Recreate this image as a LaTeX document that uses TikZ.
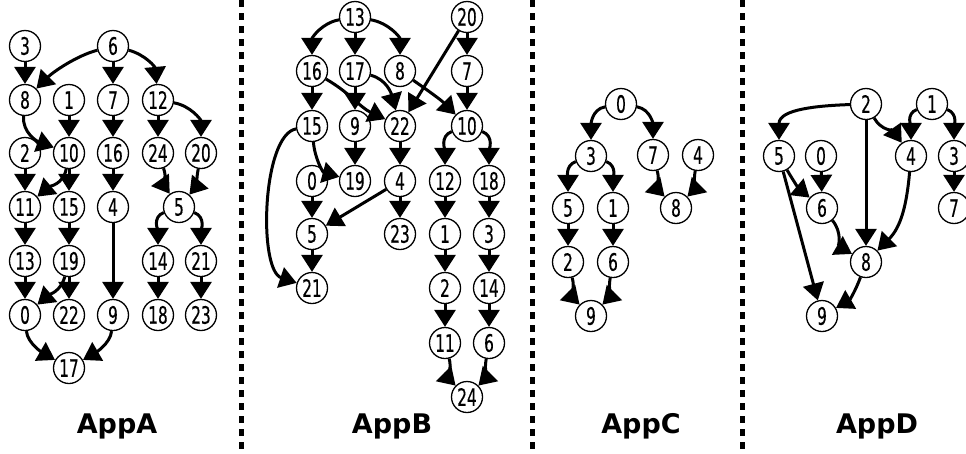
\documentclass[tikz,border=0pt]{standalone}
\usepackage{fontspec}
\usetikzlibrary{arrows.meta}
\newfontfamily\numfont[FakeStretch=0.64,FakeBold=0.4]{DejaVu Sans}
\newfontfamily\labfont{DejaVu Sans}
\begin{document}
\begin{tikzpicture}[x=1pt,y=1pt,
 nd/.style={circle,draw,line width=1.3pt,minimum size=31pt,inner sep=0pt,fill=white,font=\numfont\fontsize{24pt}{24pt}\selectfont},
 arr/.style={line width=3pt,-{Triangle[length=17pt 0,width=21pt 0]}},
 lab/.style={font=\labfont\bfseries\fontsize{27pt}{27pt}\selectfont,anchor=base},
 divider/.style={line width=5pt,dash pattern=on 7pt off 6pt}]
\useasboundingbox (0,0) rectangle (966,-453);
% dividers
\draw[divider] (241,0) -- (241,-453);
\draw[divider] (532,0) -- (532,-453);
\draw[divider] (742,0) -- (742,-453);
% labels
\node[lab] (LA) at (117,-433) {AppA};
\node[lab] (LB) at (392,-433) {AppB};
\node[lab] (LC) at (641,-433) {AppC};
\node[lab] (LD) at (877,-433) {AppD};
% ---------------- AppA
\node[nd] (A3) at (25,-46) {3};
\node[nd] (A6) at (113,-46) {6};
\node[nd] (A8) at (25,-100) {8};
\node[nd] (A1) at (69,-100) {1};
\node[nd] (A7) at (113,-100) {7};
\node[nd] (A12) at (158,-100) {12};
\node[nd] (A2) at (25,-153) {2};
\node[nd] (A10) at (69,-153) {10};
\node[nd] (A16) at (113,-153) {16};
\node[nd] (A24) at (158,-153) {24};
\node[nd] (A20) at (201,-153) {20};
\node[nd] (A11) at (25,-207) {11};
\node[nd] (A15) at (69,-207) {15};
\node[nd] (A4) at (113,-207) {4};
\node[nd] (A5) at (179,-207) {5};
\node[nd] (A13) at (25,-261) {13};
\node[nd] (A19) at (69,-261) {19};
\node[nd] (A14) at (158,-261) {14};
\node[nd] (A21) at (201,-261) {21};
\node[nd] (A0) at (25,-315) {0};
\node[nd] (A22) at (69,-315) {22};
\node[nd] (A9) at (113,-315) {9};
\node[nd] (A18) at (158,-315) {18};
\node[nd] (A23) at (201,-315) {23};
\node[nd] (A17) at (69,-368) {17};
\draw[arr] (A3) -- (A8);
\draw[arr] (A6) to[out=195,in=45,looseness=0.8] (A8);
\draw[arr] (A6) -- (A7);
\draw[arr] (A6) to[out=-15,in=95] (A12);
\draw[arr] (A8) to[out=265,in=160] (A10);
\draw[arr] (A1) -- (A10);
\draw[arr] (A7) -- (A16);
\draw[arr] (A12) -- (A24);
\draw[arr] (A12) to[out=-10,in=90] (A20);
\draw[arr] (A2) -- (A11);
\draw[arr] (A10) to[out=260,in=40] (A11);
\draw[arr] (A10) -- (A15);
\draw[arr] (A16) -- (A4);
\draw[arr] (A24) to[out=290,in=125] (A5);
\draw[arr] (A20) to[out=260,in=50] (A5);
\draw[arr] (A11) -- (A13);
\draw[arr] (A15) -- (A19);
\draw[arr] (A4) -- (A9);
\draw[arr] (A5) to[out=200,in=90] (A14);
\draw[arr] (A5) to[out=-20,in=90] (A21);
\draw[arr] (A13) -- (A0);
\draw[arr] (A19) to[out=255,in=40] (A0);
\draw[arr] (A19) -- (A22);
\draw[arr] (A14) -- (A18);
\draw[arr] (A21) -- (A23);
\draw[arr] (A0) to[out=275,in=150,looseness=0.8] (A17);
\draw[arr] (A9) to[out=265,in=30,looseness=0.8] (A17);
% ---------------- AppB
\node[nd] (B13) at (355,-17) {13};
\node[nd] (B20) at (467,-17) {20};
\node[nd] (B16) at (312,-71) {16};
\node[nd] (B17) at (355,-71) {17};
\node[nd] (B8) at (400,-71) {8};
\node[nd] (B7) at (467,-71) {7};
\node[nd] (B15) at (312,-126) {15};
\node[nd] (B9) at (355,-126) {9};
\node[nd] (B22) at (400,-126) {22};
\node[nd] (B10) at (467,-126) {10};
\node[nd] (B0) at (312,-181) {0};
\node[nd] (B19) at (355,-181) {19};
\node[nd] (B4) at (400,-181) {4};
\node[nd] (B12) at (445,-181) {12};
\node[nd] (B18) at (489,-181) {18};
\node[nd] (B5) at (312,-234) {5};
\node[nd] (B23) at (400,-234) {23};
\node[nd] (B1) at (445,-234) {1};
\node[nd] (B3) at (489,-234) {3};
\node[nd] (B21) at (312,-288) {21};
\node[nd] (B2) at (445,-288) {2};
\node[nd] (B14) at (489,-288) {14};
\node[nd] (B11) at (445,-343) {11};
\node[nd] (B6) at (489,-343) {6};
\node[nd] (B24) at (467,-397) {24};
\draw[arr] (B13) to[out=190,in=90] (B16);
\draw[arr] (B13) -- (B17);
\draw[arr] (B13) to[out=-10,in=90] (B8);
\draw[arr] (B20) -- (B7);
\draw[arr] (B20) -- (B22);
\draw[arr] (B16) -- (B15);
\draw[arr] (B16) to[out=-30,in=155] (B22);
\draw[arr] (B17) -- (B9);
\draw[arr] (B17) to[out=-15,in=105] (B22);
\draw[arr] (B8) to[out=-35,in=135] (B10);
\draw[arr] (B7) -- (B10);
\draw[arr] (B15) to[out=275,in=165] (B19);
\draw[arr] (B15) .. controls (262,-135) and (258,-270) .. (B21);
\draw[arr] (B9) -- (B19);
\draw[arr] (B22) -- (B4);
\draw[arr] (B10) to[out=200,in=90] (B12);
\draw[arr] (B10) to[out=-20,in=90] (B18);
\draw[arr] (B0) -- (B5);
\draw[arr] (B4) -- (B5);
\draw[arr] (B4) -- (B23);
\draw[arr] (B12) -- (B1);
\draw[arr] (B18) -- (B3);
\draw[arr] (B5) -- (B21);
\draw[arr] (B1) -- (B2);
\draw[arr] (B3) -- (B14);
\draw[arr] (B2) -- (B11);
\draw[arr] (B14) -- (B6);
\draw[arr] (B11) to[out=285,in=135] (B24);
\draw[arr] (B6) to[out=260,in=45] (B24);
% ---------------- AppC
\node[nd] (C0) at (621,-104) {0};
\node[nd] (C3) at (591,-156) {3};
\node[nd] (C7) at (653,-155) {7};
\node[nd] (C4) at (698,-155) {4};
\node[nd] (C5) at (568,-208) {5};
\node[nd] (C1) at (613,-208) {1};
\node[nd] (C8) at (676,-208) {8};
\node[nd] (C2) at (568,-262) {2};
\node[nd] (C6) at (613,-262) {6};
\node[nd] (C9) at (591,-316) {9};
\draw[arr] (C0) to[out=190,in=90] (C3);
\draw[arr] (C0) to[out=-10,in=90] (C7);
\draw[arr] (C3) to[out=200,in=90] (C5);
\draw[arr] (C3) to[out=-20,in=90] (C1);
\draw[arr] (C7) to[out=285,in=135] (C8);
\draw[arr] (C4) to[out=260,in=45] (C8);
\draw[arr] (C5) -- (C2);
\draw[arr] (C1) -- (C6);
\draw[arr] (C2) to[out=285,in=135] (C9);
\draw[arr] (C6) to[out=260,in=45] (C9);
% ---------------- AppD
\node[nd] (D2) at (866,-104) {2};
\node[nd] (D1) at (932,-104) {1};
\node[nd] (D5) at (779,-156) {5};
\node[nd] (D0) at (821,-156) {0};
\node[nd] (D4) at (911,-156) {4};
\node[nd] (D3) at (954,-156) {3};
\node[nd] (D6) at (822,-208) {6};
\node[nd] (D7) at (954,-208) {7};
\node[nd] (D8) at (866,-262) {8};
\node[nd] (D9) at (822,-316) {9};
\draw[arr] (D2) to[out=182,in=90] (D5);
\draw[arr] (D2) -- (D8);
\draw[arr] (D2) to[out=-60,in=125] (D4);
\draw[arr] (D1) to[out=200,in=90] (D4);
\draw[arr] (D1) to[out=-20,in=90] (D3);
\draw[arr] (D5) to[out=-60,in=140] (D6);
\draw[arr] (D0) -- (D6);
\draw[arr] (D5) -- (D9);
\draw[arr] (D3) -- (D7);
\draw[arr] (D4) to[out=265,in=45] (D8);
\draw[arr] (D6) to[out=-50,in=150] (D8);
\draw[arr] (D8) to[out=250,in=30] (D9);
\end{tikzpicture}
\end{document}
